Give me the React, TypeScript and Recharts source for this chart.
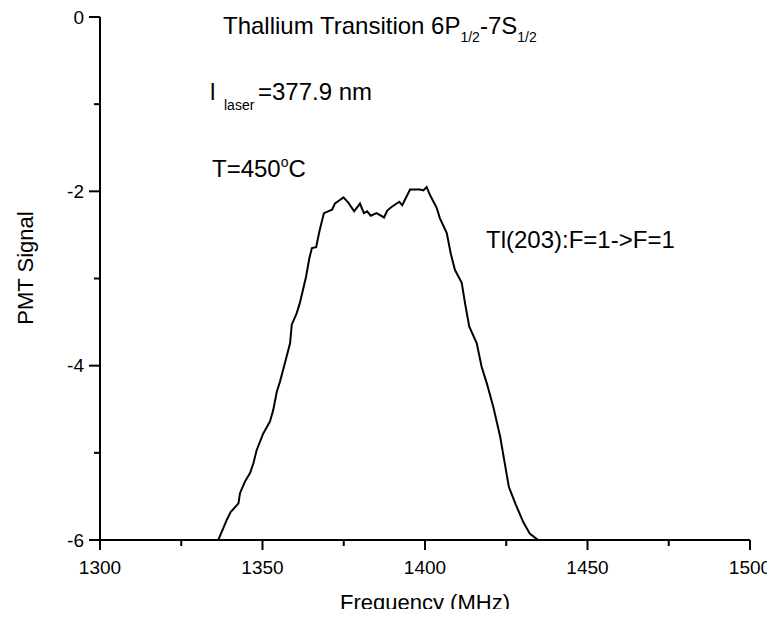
import React from 'react';
import { LineChart, Line, XAxis, YAxis, Customized } from 'recharts';

// frequency (MHz) and PMT signal
const frequency = [
  1336.4, 1339.0, 1340.2, 1342.6, 1343.1, 1344.6, 1346.2, 1347.2, 1348.2, 1350.2,
  1352.3, 1353.3, 1354.4, 1355.4, 1356.9, 1358.5, 1359.0, 1360.5, 1361.5, 1363.4,
  1364.4, 1365.2, 1366.5, 1367.5, 1368.9, 1371.4, 1372.3, 1373.8, 1374.9, 1376.4,
  1378.2, 1380.0, 1381.2, 1382.2, 1383.3, 1385.1, 1387.4, 1388.4, 1389.7, 1392.1,
  1393.0, 1395.4, 1398.5, 1399.5, 1400.5, 1401.5, 1403.6, 1404.6, 1406.7, 1407.9,
  1409.2, 1411.3, 1412.3, 1413.6, 1415.9, 1417.4, 1419.0, 1421.0, 1423.1, 1425.8,
  1428.0, 1430.3, 1432.3, 1434.8,
];
const signal = [
  -6.0, -5.77, -5.68, -5.58, -5.46, -5.33, -5.23, -5.12, -4.97, -4.78,
  -4.64, -4.51, -4.3, -4.18, -3.97, -3.74, -3.53, -3.4, -3.28, -2.98,
  -2.77, -2.65, -2.64, -2.46, -2.25, -2.21, -2.14, -2.1, -2.07, -2.13,
  -2.23, -2.14, -2.25, -2.23, -2.28, -2.25, -2.3, -2.22, -2.18, -2.12,
  -2.16, -1.98, -1.98, -1.99, -1.95, -2.04, -2.19, -2.31, -2.48, -2.71,
  -2.9, -3.05, -3.28, -3.55, -3.74, -4.01, -4.2, -4.47, -4.81, -5.39,
  -5.6, -5.8, -5.93, -6.0,
];

const majorX = [1300, 1350, 1400, 1450, 1500];
const minorX = [1325, 1375, 1425, 1475];
const majorY = [-6, -4, -2, 0];
const minorY = [-5, -3, -1];

const data = frequency.map((f, i) => ({ f, v: signal[i] }));

const FONT = '"Liberation Sans", Arial, sans-serif';

const XTick = ({ x, y, payload }: any) => {
  const major = majorX.includes(payload.value);
  return (
    <g>
      <line x1={x} x2={x} y1={y} y2={y + (major ? 10 : 6)} stroke="#000" strokeWidth={2} />
      {major && (
        <text x={x} y={y + 27} textAnchor="middle" dominantBaseline="central" fontSize={19} fontFamily={FONT} fill="#000">
          {payload.value}
        </text>
      )}
    </g>
  );
};

const YTick = ({ x, y, payload }: any) => {
  const major = majorY.includes(payload.value);
  return (
    <g>
      <line x1={x - (major ? 11 : 6)} x2={x} y1={y} y2={y} stroke="#000" strokeWidth={2} />
      {major && (
        <text x={x - 16} y={y} textAnchor="end" dominantBaseline="central" fontSize={19} fontFamily={FONT} fill="#000">
          {payload.value}
        </text>
      )}
    </g>
  );
};

const Notes = () => (
  <g fontFamily={FONT} fill="#000">
    <text x={223} y={34} fontSize={24}>
      Thallium Transition 6P
      <tspan fontSize={14} dy={8}>1/2</tspan>
      <tspan dy={-8}>-7S</tspan>
      <tspan fontSize={14} dy={8}>1/2</tspan>
    </text>
    <text x={210} y={100} fontSize={24}>
      l
      <tspan x={224} fontSize={14} dy={10}>laser</tspan>
      <tspan x={258} dy={-10}>=377.9 nm</tspan>
    </text>
    <text x={212} y={177} fontSize={24}>
      T=450
      <tspan fontSize={14} dy={-10}>o</tspan>
      <tspan dy={10}>C</tspan>
    </text>
    <text x={486} y={248} fontSize={24}>Tl(203):F=1-&gt;F=1</text>
    <text x={425} y={602} fontSize={22} textAnchor="middle" dominantBaseline="central">Frequency (MHz)</text>
    <text x={25} y={268} fontSize={22} textAnchor="middle" dominantBaseline="central" transform="rotate(-90 25 268)">
      PMT Signal
    </text>
  </g>
);

export default function App() {
  return (
    <div style={{ margin: -8, width: 775, height: 617 }}>
      <LineChart width={775} height={617} data={data} margin={{ top: 17, right: 25, bottom: 17, left: 0 }}>
        <XAxis
          dataKey="f"
          type="number"
          domain={[1300, 1500]}
          ticks={[...majorX, ...minorX].sort((a, b) => a - b)}
          interval={0}
          height={60}
          tickSize={0}
          tickMargin={0}
          tickLine={false}
          tick={<XTick />}
          axisLine={{ stroke: '#000', strokeWidth: 2 }}
          allowDataOverflow
        />
        <YAxis
          type="number"
          domain={[-6, 0]}
          ticks={[...majorY, ...minorY].sort((a, b) => a - b)}
          interval={0}
          width={100}
          tickSize={0}
          tickMargin={0}
          tickLine={false}
          tick={<YTick />}
          axisLine={{ stroke: '#000', strokeWidth: 2 }}
          allowDataOverflow
        />
        <Line
          type="linear"
          dataKey="v"
          stroke="#000"
          strokeWidth={2}
          dot={false}
          isAnimationActive={false}
        />
        <Customized component={Notes} />
      </LineChart>
    </div>
  );
}
